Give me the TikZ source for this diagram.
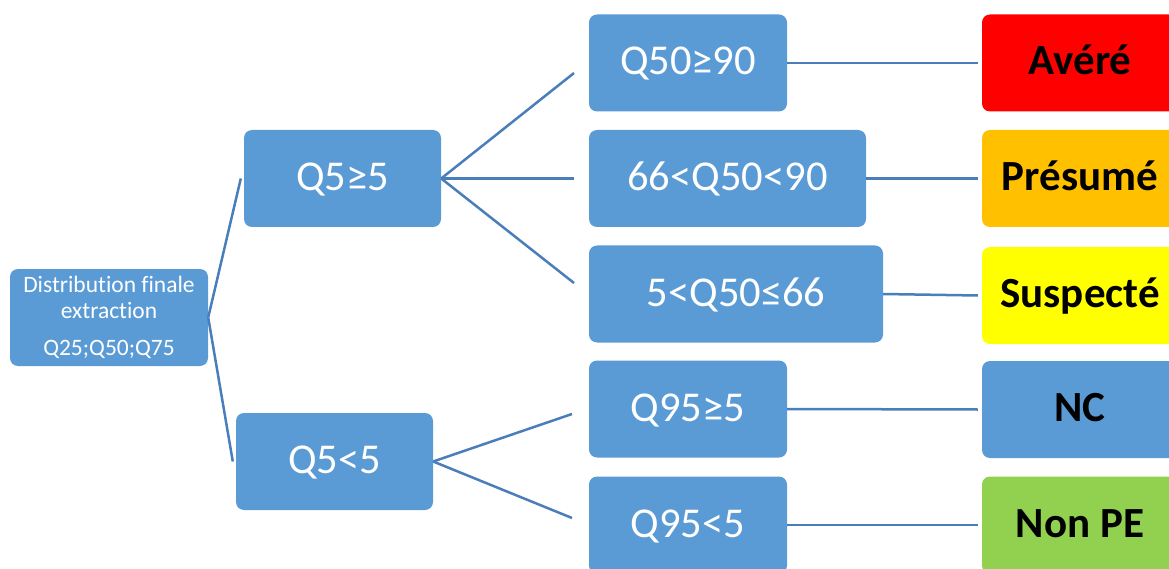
\documentclass[tikz,border=0pt]{standalone}
\usepackage{fontspec}
\setmainfont{Carlito}[Ligatures=NoCommon]
\definecolor{boxblue}{HTML}{5B9BD5}
\definecolor{linkblue}{HTML}{4A7EBB}
\definecolor{avred}{HTML}{FF0000}
\definecolor{avorange}{HTML}{FFC000}
\definecolor{avyellow}{HTML}{FFFF00}
\definecolor{avgreen}{HTML}{92D050}
\begin{document}
\begin{tikzpicture}[x=1pt,y=-1pt,
  boxbase/.style={rounded corners=8pt, fill=boxblue, inner sep=0pt, text=white,
    minimum height=97pt},
  box/.style={boxbase, font=\fontsize{42.5}{47}\selectfont, text height=24pt, text depth=0pt},
  lab/.style={rounded corners=8pt, inner sep=0pt, text=black,
    minimum width=196pt, minimum height=97pt, font=\fontsize{43}{47}\selectfont\bfseries,
    text height=24pt, text depth=0pt},
  link/.style={draw=linkblue, line width=2.5pt}]
\useasboundingbox (0,0) rectangle (1169,569);
% root
\node[boxbase, minimum width=198pt, align=center, font=\fontsize{23.5}{26}\selectfont]
  (root) at (109,317.5) {Distribution finale\\extraction\\[11pt]Q25;Q50;Q75};
% second level
\node[box, minimum width=197pt] (q1) at (342.5,178.5) {Q5≥5};
\node[box, minimum width=197pt] (q2) at (334.5,461.5) {Q5<5};
% third level
\node[box, minimum width=198pt] (c1) at (688,63) {Q50≥90};
\node[box, minimum width=277pt] (c2) at (727.5,178.5) {66<Q50<90};
\node[box, minimum width=294pt] (c3) at (736,294) {5<Q50≤66};
\node[box, minimum width=198pt] (c4) at (688,409) {Q95≥5};
\node[box, minimum width=198pt] (c5) at (688,525) {Q95<5};
% results
\node[lab, fill=avred] (r1) at (1080,63) {Avéré};
\node[lab, fill=avorange] (r2) at (1080,178.5) {Présumé};
\node[lab, fill=avyellow] (r3) at (1080,295.5) {Suspecté};
\node[lab, fill=boxblue] (r4) at (1080,409.5) {NC};
\node[lab, fill=avgreen] (r5) at (1080,525) {Non PE};
% free ends
\coordinate (a1) at (574,73);
\coordinate (a2) at (574,178.5);
\coordinate (a3) at (574,283);
\coordinate (b1) at (572,414);
\coordinate (b2) at (572,518);
% connectors
\draw[link] (root.east) -- ([xshift=-3pt]q1.west);
\draw[link] (root.east) -- ([xshift=-3pt]q2.west);
\draw[link] (q1.east) -- (a1);
\draw[link] (q1.east) -- (a2);
\draw[link] (q1.east) -- (a3);
\draw[link] (q2.east) -- (b1);
\draw[link] (q2.east) -- (b2);
\draw[link] (c1.east) -- ([xshift=-4pt]r1.west);
\draw[link] (c2.east) -- ([xshift=-4pt]r2.west);
\draw[link] (c3.east) -- ([xshift=-4pt]r3.west);
\draw[link] (c4.east) -- ([xshift=-4pt]r4.west);
\draw[link] (c5.east) -- ([xshift=-4pt]r5.west);
\end{tikzpicture}
\end{document}
